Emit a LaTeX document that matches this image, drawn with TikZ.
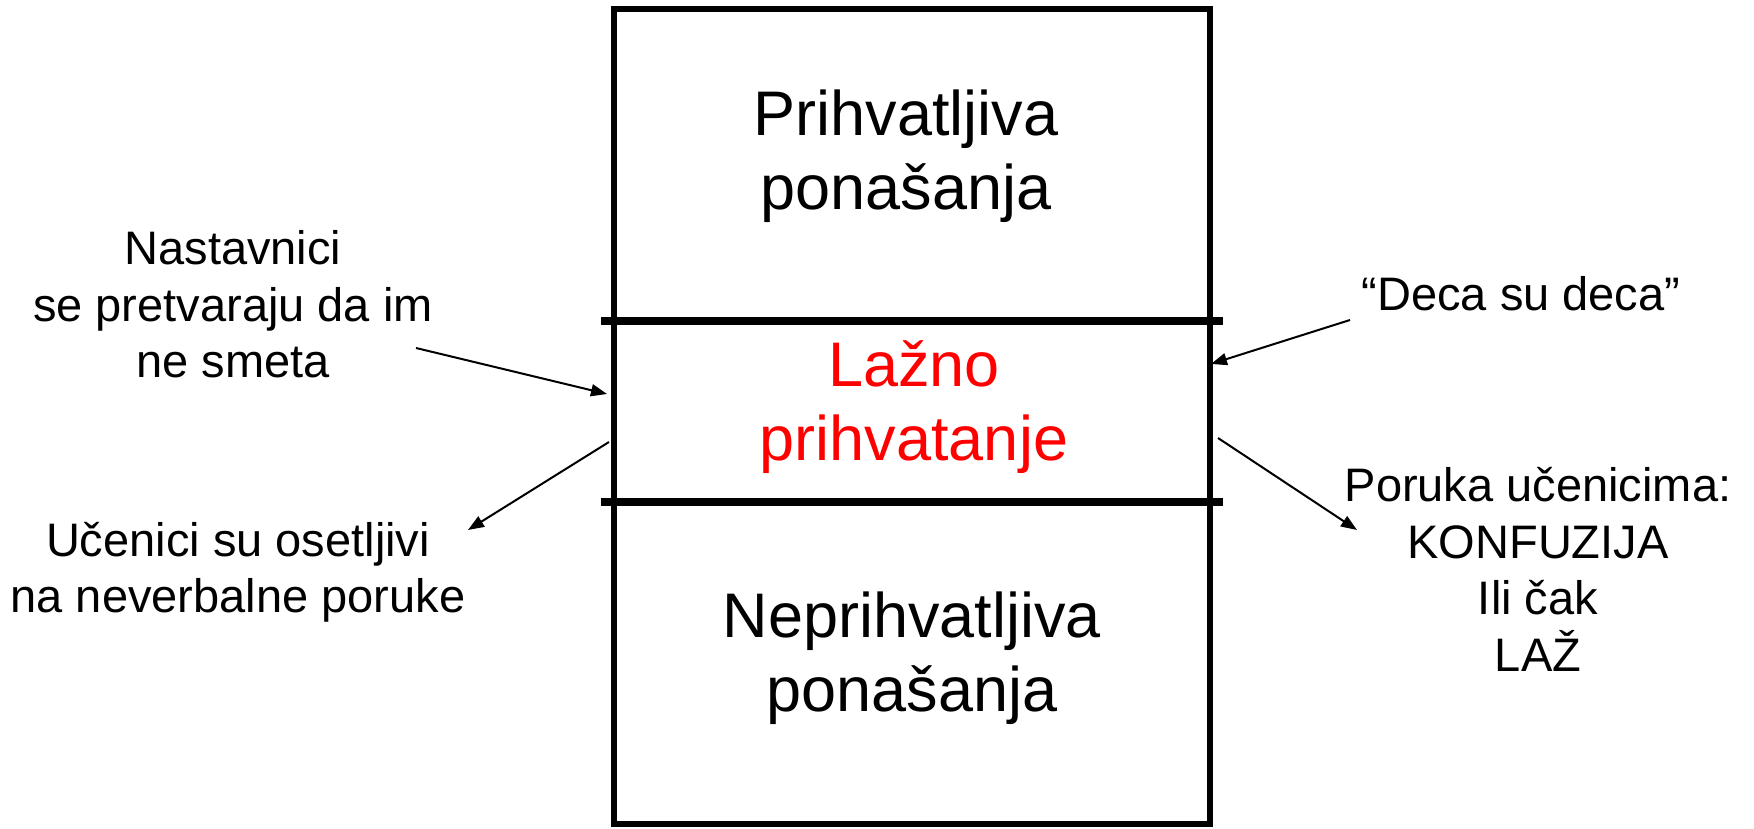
\documentclass[tikz,border=0pt]{standalone}
\usepackage{fontspec}
\setmainfont{Liberation Sans}
\usetikzlibrary{arrows.meta}
\begin{document}
\begin{tikzpicture}[x=1pt,y=1pt,
  big/.style={font=\fontsize{63}{74}\selectfont, align=center, inner sep=0pt, anchor=base},
  side/.style={font=\fontsize{47}{56.5}\selectfont, align=center, inner sep=0pt, anchor=base},
  arr/.style={line width=2pt, -{Triangle[length=16pt,width=12pt]}},
  sepline/.style={line width=8pt},
  frame/.style={draw, line width=6pt, minimum width=596pt, minimum height=815pt, inner sep=0pt}]
\useasboundingbox (0,0) rectangle (1754,828);
\node[frame] (box) at (912,411.5) {};
% separators
\coordinate (s1l) at (601,507); \coordinate (s1r) at (1223,507);
\coordinate (s2l) at (601,326); \coordinate (s2r) at (1223,326);
\draw[sepline] (s1l) -- (s1r);
\draw[sepline] (s2l) -- (s2r);
% section texts
\node[big] (acc) at (906,618) {Prihvatljiva\\ponašanja};
\node[big, text=red] (fake) at (914,367) {Lažno\\prihvatanje};
\node[big] (unacc) at (912,116.5) {Neprihvatljiva\\ponašanja};
% side labels
\node[side] (teach) at (233,450) {Nastavnici\\se pretvaraju da im\\ne smeta};
\node[side] (pupils) at (238,215) {Učenici su osetljivi\\na neverbalne poruke};
\node[side] (kids) at (1521,517) {“Deca su deca”};
\node[side] (msg) at (1538,157) {Poruka učenicima:\\KONFUZIJA\\Ili čak\\LAŽ};
% arrow ends
\coordinate (a1s) at (416,480); \coordinate (a1e) at (607,434);
\coordinate (a2s) at (609,386); \coordinate (a2e) at (468,298);
\coordinate (a3s) at (1350,508); \coordinate (a3e) at (1211,464);
\coordinate (a4s) at (1218,390); \coordinate (a4e) at (1357,298);
\draw[arr] (a1s) -- (a1e);
\draw[arr] (a2s) -- (a2e);
\draw[arr] (a3s) -- (a3e);
\draw[arr] (a4s) -- (a4e);
\end{tikzpicture}
\end{document}
